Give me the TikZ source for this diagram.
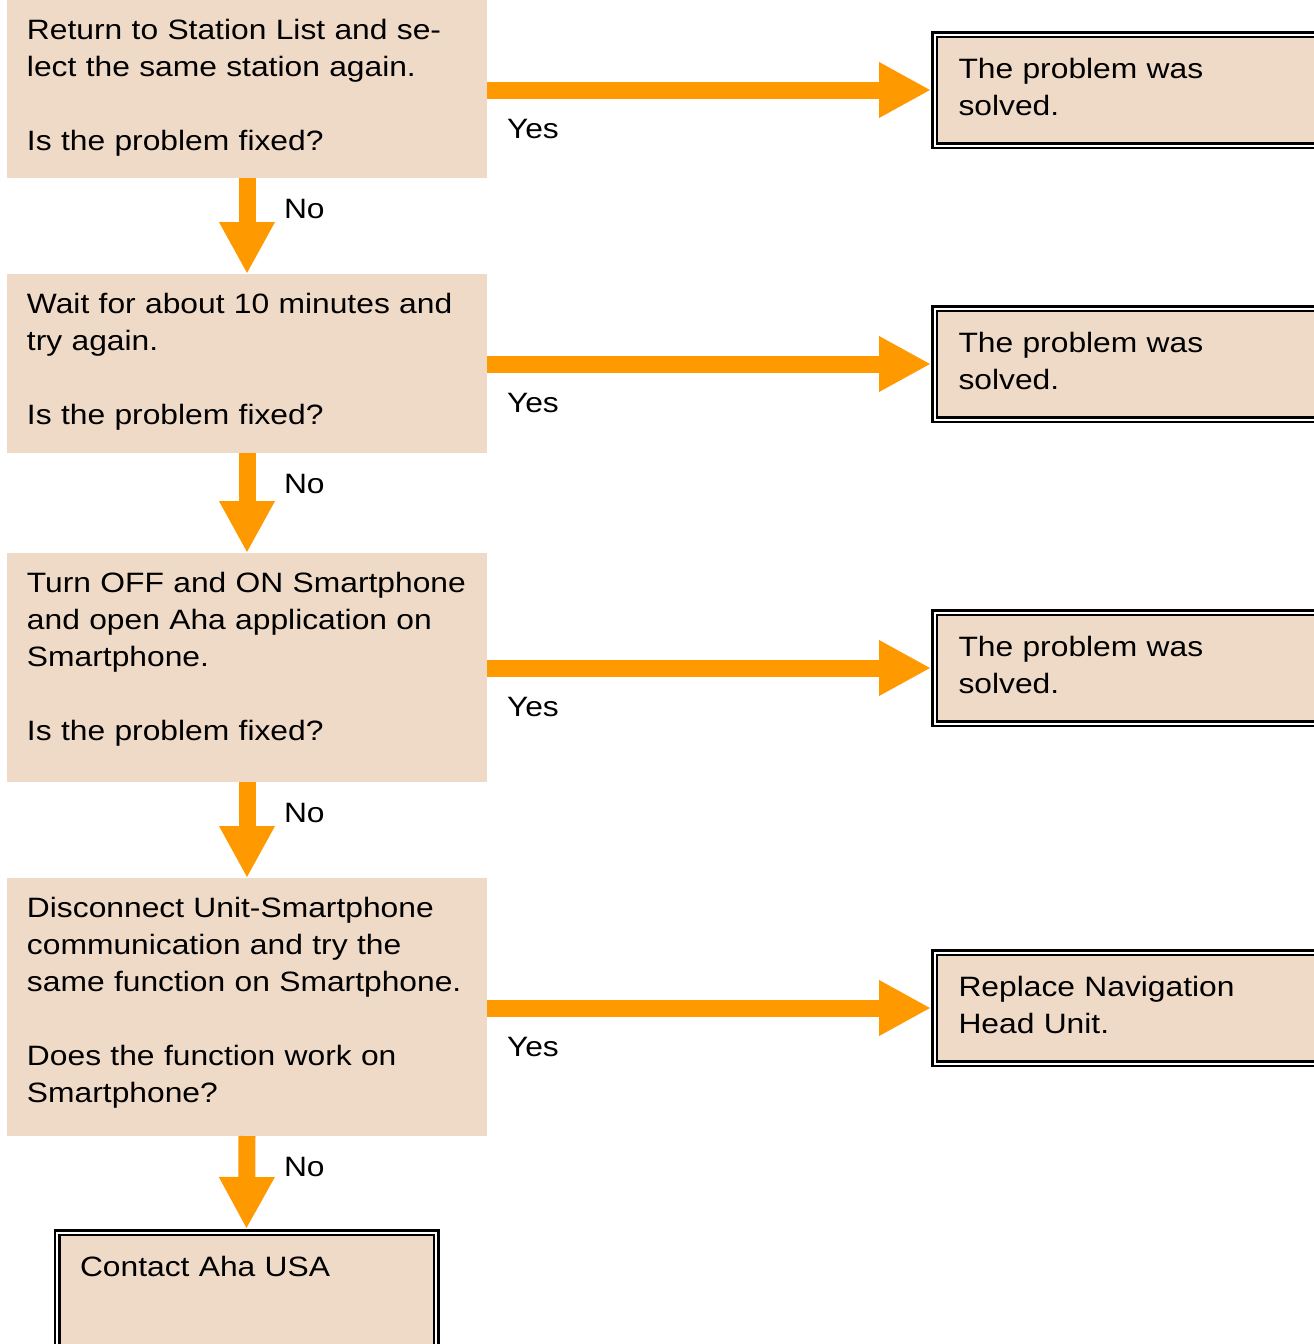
\documentclass[tikz,border=0pt]{standalone}
\usepackage{fontspec}
\setmainfont[FakeStretch=1.135]{Liberation Sans}
\usepackage{tikz}
\usetikzlibrary{positioning, arrows.meta}
\definecolor{boxfill}{RGB}{239,218,199}
\definecolor{flowarrow}{RGB}{255,153,0}

\begin{document}
\begin{tikzpicture}[x=1pt, y=-1pt, font=\fontsize{28}{37}\selectfont]
				\tikzstyle{question}=[fill=boxfill, anchor=north west, text width=440pt, inner xsep=20pt, inner ysep=0pt, outer sep=0pt, align=left, text height=39pt]
				\tikzstyle{result}=[fill=boxfill, draw=black, line width=2.5pt, double=white, double distance=2pt, outer sep=3.5pt, inner ysep=0pt, align=left, text height=43.5pt]
				\tikzstyle{answer}=[result, anchor=north west, text depth=67.5pt, text width=380pt, inner xsep=24pt]
				\tikzstyle{flow}=[draw=flowarrow, line width=17pt, -{Triangle[length=52pt, width=52pt]}]
				\tikzstyle{yes label}=[pos=0, anchor=base west, inner sep=0pt, outer sep=0pt, xshift=20pt, yshift=-48.5pt]
				\tikzstyle{no label}=[pos=0, anchor=base west, inner sep=0pt, outer sep=0pt, xshift=37pt, yshift=-40pt]
				
				\clip (0,0) rectangle (1314,1344);
				
				% Questions
				\node[question, text depth=139pt] (Q-1) at (7,0) {Return to Station List and se-\\lect the same station again.\\[37pt]Is the problem fixed?};
				\node[question, text depth=140pt] (Q-2) at (7,274) {Wait for about 10 minutes and\\try again.\\[37pt]Is the problem fixed?};
				\node[question, text depth=190pt] (Q-3) at (7,553) {Turn OFF and ON Smartphone\\and open Aha application on\\Smartphone.\\[37pt]Is the problem fixed?};
				\node[question, text depth=219pt] (Q-4) at (7,878) {Disconnect Unit-Smartphone\\communication and try the\\same function on Smartphone.\\[37pt]Does the function work on\\Smartphone?};
				\node[result, anchor=north, text width=333pt, inner xsep=23pt, text depth=160pt] (end) at (246.5,1229) {Contact Aha USA};
				
				% Answers
				\node[answer] (R-1) at (931,31) {The problem was\\solved.};
				\node[answer] (R-2) at (931,305) {The problem was\\solved.};
				\node[answer] (R-3) at (931,609) {The problem was\\solved.};
				\node[answer] (R-4) at (931,949) {Replace Navigation\\Head Unit.};
				
				% Yes
				\foreach \i in {1,...,4}
				\draw[flow] (Q-\i.east |- R-\i.west) -- node[yes label] {Yes} (R-\i.west);
				
				% No
				\foreach \a / \b in {Q-1/Q-2, Q-2/Q-3, Q-3/Q-4, Q-4/end}
				\draw[flow] (\a.south) -- node[no label] {No} (\b.north);
\end{tikzpicture}
\end{document}
